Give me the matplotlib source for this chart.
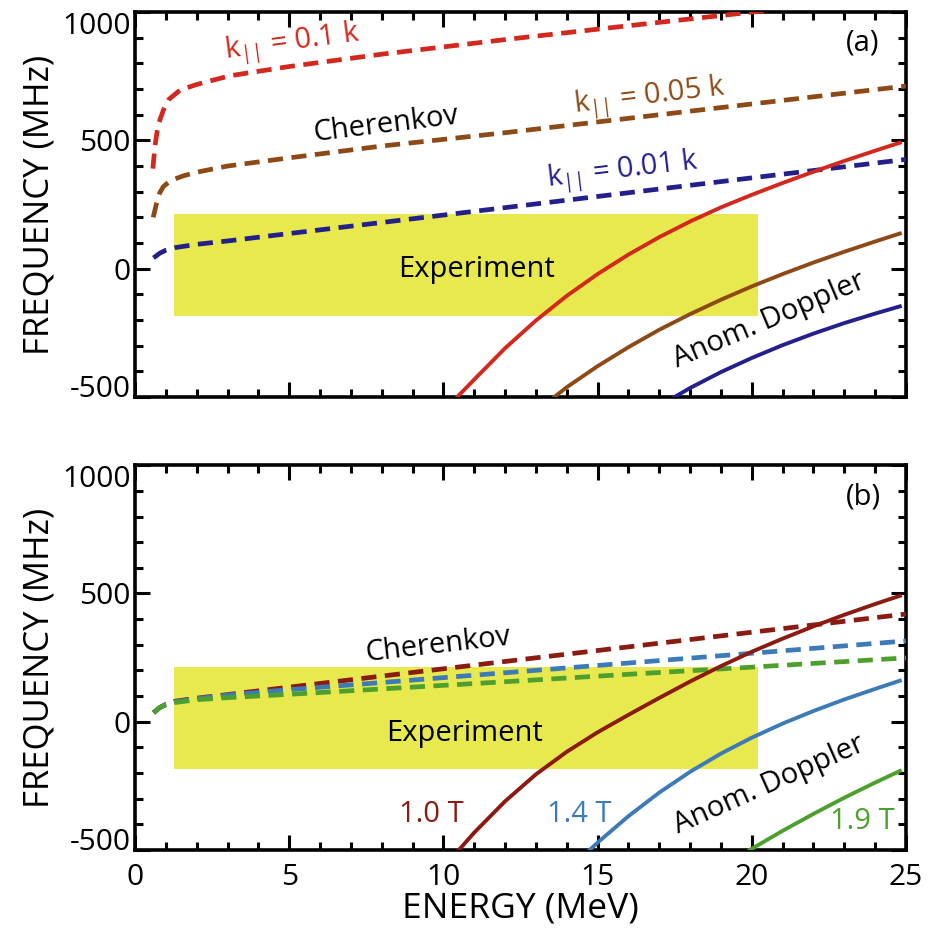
import numpy as np
import matplotlib
matplotlib.use('Agg')
import matplotlib.pyplot as plt

plt.rcParams['font.family'] = ['Open Sans', 'DejaVu Sans']
plt.rcParams['mathtext.fontset'] = 'custom'
plt.rcParams['mathtext.rm'] = 'Open Sans'
plt.rcParams['mathtext.it'] = 'Open Sans'
plt.rcParams['axes.unicode_minus'] = False

# experiment window (MeV, MHz)
exp_E = [1.25, 20.2]
exp_f = [-185, 212]

# ---- panel (a): Cherenkov (dashed) for different k_par
cher_a_E = {
    '0.1': [0.58, 0.65, 0.75, 0.92, 1.1, 1.46, 2, 3.08, 5, 8, 12, 16, 20, 25],
    '0.05': [0.59, 0.7, 0.8, 0.92, 1.1, 1.3, 1.57, 2, 3, 5, 8, 12, 16, 20, 25],
    '0.01': [0.6, 0.8, 1.0, 1.3, 2, 3, 5, 8, 12, 16, 20, 25],
}
cher_a_f = {
    '0.1': [390, 480, 560, 618, 660, 696, 718, 752, 788, 836, 893, 947, 1000, 1070],
    '0.05': [200, 255, 295, 320, 338, 350, 362, 376, 400, 432, 478, 530, 586, 642, 712],
    '0.01': [42, 60, 72, 82, 95, 108, 137, 180, 238, 296, 354, 426],
}
# panel (a): anomalous Doppler (solid)
dop_a_E = {
    '0.1': [10.45, 11, 12, 13, 14, 15, 16, 17, 18, 19, 20, 21, 22, 23, 24, 24.8],
    '0.05': [13.6, 14, 15, 16, 17, 18, 19, 20, 21, 22, 23, 24, 24.8],
    '0.01': [17.5, 18, 19, 20, 21, 22, 23, 24, 24.8],
}
dop_a_f = {
    '0.1': [-500, -432, -310, -202, -106, -21, 55, 123, 184, 239, 288, 334, 378, 420, 460, 491],
    '0.05': [-500, -462, -380, -306, -238, -177, -121, -69, -21, 24, 66, 106, 137],
    '0.01': [-500, -465, -403, -348, -298, -253, -212, -175, -147],
}
colors_a = {'0.1': '#D2281E', '0.05': '#8E4A16', '0.01': '#23208C'}

# ---- panel (b): different magnetic fields
cher_b_E = [0.6, 0.8, 1.0, 1.3, 2, 3, 5, 8, 12, 16, 20, 25]
cher_b_f = {
    '1.0': [35, 55, 68, 80, 92, 106, 135, 178, 235, 292, 349, 420],
    '1.4': [35, 55, 68, 78, 90, 104, 125, 153, 191, 229, 267, 315],
    '1.9': [35, 55, 66, 75, 86, 94, 107, 128, 156, 185, 213, 249],
}
dop_b_E = {
    '1.0': [10.5, 11, 12, 13, 14, 15, 16, 17, 18, 19, 20, 21, 22, 23, 24, 24.8],
    '1.4': [14.74, 15, 16, 17, 18, 19, 20, 21, 22, 23, 24, 24.8],
    '1.9': [19.93, 20, 21, 22, 23, 24, 24.8],
}
dop_b_f = {
    '1.0': [-500, -432, -310, -205, -117, -41, 27, 93, 157, 217, 273, 324, 372, 417, 459, 491],
    '1.4': [-500, -471, -368, -276, -195, -124, -62, -7, 42, 87, 128, 160],
    '1.9': [-500, -495, -425, -359, -296, -237, -192],
}
colors_b = {'1.0': '#8B1A10', '1.4': '#3D7AB8', '1.9': '#4DA02E'}

fig = plt.figure(figsize=(9.38, 9.34), dpi=100)
ax1 = fig.add_axes([0.1439, 0.575, 0.822, 0.412])
ax2 = fig.add_axes([0.1439, 0.0899, 0.822, 0.412])

dash = (3.2, 1.8)


def style(ax):
    ax.set_xlim(0, 25)
    ax.set_ylim(-500, 1000)
    ax.set_xticks([0, 5, 10, 15, 20, 25])
    ax.set_xticks(np.arange(0, 26, 1), minor=True)
    ax.set_yticks([-500, 0, 500, 1000])
    ax.set_yticks(np.arange(-500, 1001, 100), minor=True)
    ax.tick_params(which='both', direction='in', top=True, right=True, width=2.2)
    ax.tick_params(which='major', length=11, labelsize=21.5, pad=3)
    ax.tick_params(which='minor', length=6)
    ax.tick_params(axis='x', which='major', pad=9)
    for s in ax.spines.values():
        s.set_linewidth(2.6)
    ax.set_ylabel('FREQUENCY (MHz)', fontsize=25, labelpad=4)
    ax.fill_between(exp_E, exp_f[0], exp_f[1], color='#E8E84F', lw=0, zorder=1)
    labels = ax.get_yticklabels()
    labels[0].set_verticalalignment('baseline')
    labels[-1].set_verticalalignment('top')


style(ax1)
style(ax2)
ax1.tick_params(labelbottom=False)
ax2.set_xlabel('ENERGY (MeV)', fontsize=25.5, labelpad=0)

for key in ['0.1', '0.05', '0.01']:
    ax1.plot(cher_a_E[key], cher_a_f[key], color=colors_a[key], lw=3.4, dashes=dash, zorder=3)
    ax1.plot(dop_a_E[key], dop_a_f[key], color=colors_a[key], lw=2.8, zorder=4)

for key in ['1.0', '1.4', '1.9']:
    ax2.plot(cher_b_E, cher_b_f[key], color=colors_b[key], lw=3.4, dashes=dash, zorder=3)
    ax2.plot(dop_b_E[key], dop_b_f[key], color=colors_b[key], lw=2.8, zorder=4)

tk = dict(ha='center', va='center', fontsize=21, rotation_mode='anchor')

ax1.text(5.09, 879, r'k$_{\mathrm{||}}$ = 0.1 k', color=colors_a['0.1'], rotation=7.5, **tk)
ax1.text(8.13, 560, 'Cherenkov', color='black', rotation=7, **tk)
ax1.text(16.69, 669, r'k$_{\mathrm{||}}$ = 0.05 k', color=colors_a['0.05'], rotation=6.7, **tk)
ax1.text(15.81, 381, r'k$_{\mathrm{||}}$ = 0.01 k', color=colors_a['0.01'], rotation=6.7, **tk)
ax1.text(11.08, -5, 'Experiment', color='black', **tk)
ax1.text(20.58, -200, 'Anom. Doppler', color='black', rotation=23, **tk)
ax1.text(23.59, 879, '(a)', color='black', **tk)

ax2.text(9.82, 299, 'Cherenkov', color='black', rotation=6.6, **tk)
ax2.text(10.69, -44, 'Experiment', color='black', **tk)
ax2.text(20.58, -246, 'Anom. Doppler', color='black', rotation=24, **tk)
ax2.text(9.62, -363, '1.0 T', color=colors_b['1.0'], **tk)
ax2.text(14.42, -363, '1.4 T', color=colors_b['1.4'], **tk)
ax2.text(23.59, -390, '1.9 T', color=colors_b['1.9'], **tk)
ax2.text(23.62, 875, '(b)', color='black', **tk)

fig.savefig('out.png', dpi=100)
